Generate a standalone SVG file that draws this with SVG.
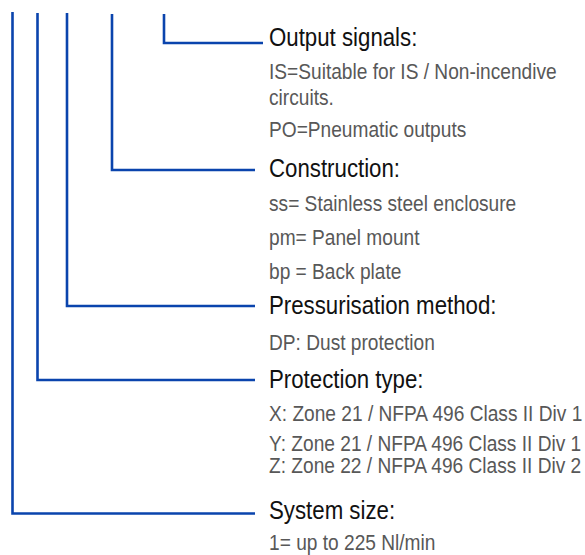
<svg xmlns="http://www.w3.org/2000/svg" width="585" height="555" viewBox="0 0 585 555">
<style>
.c{fill:none;stroke:#0a44ad;stroke-width:2.6;stroke-linejoin:miter;stroke-linecap:butt}
.h{font-family:"Liberation Sans",Arial,sans-serif;font-size:25px;fill:#111}
.b{font-family:"Liberation Sans",Arial,sans-serif;font-size:22px;fill:#585858}
</style>
<rect width="585" height="555" fill="#fff"/>
<g id="connectors">
<path class="c" d="M12.5,12 V513.5 H255"/>
<path class="c" d="M37.5,13 V380 H255"/>
<path class="c" d="M67,13 V306 H255"/>
<path class="c" d="M112,14 V170 H255"/>
<path class="c" d="M164,14 V43 H263"/>
</g>
<g id="output-signals">
<text class="h" transform="matrix(0.89,0,0,1,269,46)">Output signals:</text>
<text class="b" transform="matrix(0.87,0,0,1,269,79)">IS=Suitable for IS / Non-incendive</text>
<text class="b" transform="matrix(0.87,0,0,1,269,105)">circuits.</text>
<text class="b" transform="matrix(0.87,0,0,1,269,137)">PO=Pneumatic outputs</text>
</g>
<g id="construction">
<text class="h" transform="matrix(0.89,0,0,1,269,177)">Construction:</text>
<text class="b" transform="matrix(0.87,0,0,1,269,211)">ss= Stainless steel enclosure</text>
<text class="b" transform="matrix(0.87,0,0,1,269,245)">pm= Panel mount</text>
<text class="b" transform="matrix(0.87,0,0,1,269,279)">bp = Back plate</text>
</g>
<g id="pressurisation-method">
<text class="h" transform="matrix(0.89,0,0,1,269,314)">Pressurisation method:</text>
<text class="b" transform="matrix(0.87,0,0,1,269,350)">DP: Dust protection</text>
</g>
<g id="protection-type">
<text class="h" transform="matrix(0.89,0,0,1,269,388)">Protection type:</text>
<text class="b" transform="matrix(0.87,0,0,1,269,421)">X: Zone 21 / NFPA 496 Class II Div 1</text>
<text class="b" transform="matrix(0.87,0,0,1,269,451)">Y: Zone 21 / NFPA 496 Class II Div 1</text>
<text class="b" transform="matrix(0.87,0,0,1,269,473)">Z: Zone 22 / NFPA 496 Class II Div 2</text>
</g>
<g id="system-size">
<text class="h" transform="matrix(0.89,0,0,1,269,519)">System size:</text>
<text class="b" transform="matrix(0.87,0,0,1,269,550)">1= up to 225 Nl/min</text>
</g>
</svg>
